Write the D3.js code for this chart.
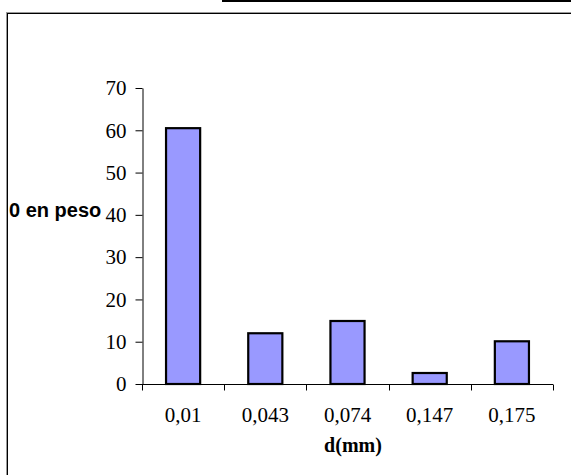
<!DOCTYPE html>
<html>
<head>
<meta charset="utf-8">
<script src="https://cdn.jsdelivr.net/npm/d3@7"></script>
<style>
  html, body { margin: 0; padding: 0; background: #fff; }
  svg { display: block; }
</style>
</head>
<body>
<svg id="chart" width="571" height="475"></svg>
<script>
const categories = ["0,01", "0,043", "0,074", "0,147", "0,175"];
const values = [60.5, 12, 14.9, 2.6, 10.1];
const yTicks = [0, 10, 20, 30, 40, 50, 60, 70];
const yTitle = "0 en peso";
const xTitle = "d(mm)";

const svg = d3.select("#chart");

// outer frame and top decoration line
svg.append("line").attr("x1", 222).attr("x2", 571).attr("y1", 1).attr("y2", 1)
  .attr("stroke", "#000").attr("stroke-width", 2);
svg.append("rect").attr("x", 6.5).attr("y", 12.5).attr("width", 600).attr("height", 500)
  .attr("fill", "none").attr("stroke", "#999").attr("stroke-width", 1);
svg.append("rect").attr("x", 7.5).attr("y", 13.5).attr("width", 600).attr("height", 500)
  .attr("fill", "none").attr("stroke", "#000").attr("stroke-width", 1);

const x = d3.scaleBand().domain(categories).range([142, 553]).padding(0);
const y = d3.scaleLinear().domain([0, 70]).range([384, 88]);

// bars
const bw = x.bandwidth() * 0.415;
svg.append("g").selectAll("rect").data(values).join("rect")
  .attr("x", (d, i) => x(categories[i]) + (x.bandwidth() - bw) / 2)
  .attr("y", d => y(d))
  .attr("width", bw)
  .attr("height", d => y(0) - y(d))
  .attr("fill", "#9999FF")
  .attr("stroke", "#000")
  .attr("stroke-width", 2.2);

// y axis
const yAxis = svg.append("g").attr("transform", "translate(142.5,0)")
  .call(d3.axisLeft(y).tickValues(yTicks).tickSize(7).tickSizeOuter(0).tickPadding(9).tickFormat(d3.format("d")));
yAxis.select(".domain").attr("stroke", "#000");
yAxis.selectAll(".tick line").attr("stroke", "#000");
yAxis.selectAll(".tick text")
  .attr("font-family", "'Liberation Serif', 'Times New Roman', serif")
  .attr("font-size", 21).attr("fill", "#000");

// x axis
const xg = svg.append("g").attr("transform", "translate(0,384.5)");
xg.append("line").attr("x1", x.range()[0]).attr("x2", x.range()[1])
  .attr("stroke", "#000");
const bounds = categories.map(c => x(c)).concat([x.range()[1]]);
xg.selectAll("line.tk").data(bounds).join("line").attr("class", "tk")
  .attr("x1", d => Math.round(d) + 0.5).attr("x2", d => Math.round(d) + 0.5)
  .attr("y1", 0).attr("y2", 6).attr("stroke", "#000");
xg.selectAll("text").data(categories).join("text")
  .attr("x", d => x(d) + x.bandwidth() / 2)
  .attr("y", 37)
  .attr("text-anchor", "middle")
  .attr("font-family", "'Liberation Serif', 'Times New Roman', serif")
  .attr("font-size", 21).attr("fill", "#000")
  .text(d => d);

// titles
svg.append("text").attr("x", 353).attr("y", 452)
  .attr("text-anchor", "middle")
  .attr("font-family", "'Liberation Serif', 'Times New Roman', serif")
  .attr("font-weight", "bold").attr("font-size", 20).attr("fill", "#000")
  .text(xTitle);
svg.append("text").attr("x", 9).attr("y", 217)
  .attr("font-family", "'Liberation Sans', Arial, sans-serif")
  .attr("font-weight", "bold").attr("font-size", 20).attr("fill", "#000")
  .text(yTitle);
</script>
</body>
</html>
